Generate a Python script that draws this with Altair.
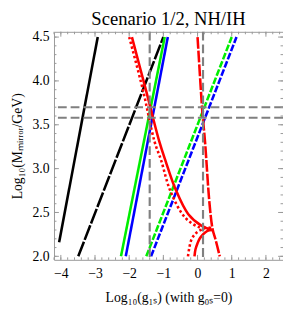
import altair as alt
import pandas as pd

# ---------------- data ----------------
X_DOMAIN = [-4.2, 2.5]
Y_DOMAIN = [1.96, 4.56]

x_major = [-4, -3, -2, -1, 0, 1, 2]
y_major = [2.0, 2.5, 3.0, 3.5, 4.0, 4.5]
x_minor = [round(-4.2 + 0.2 * i, 1) for i in range(34)]
y_minor = [round(2.0 + 0.1 * i, 1) for i in range(26)]

black_solid_x = [-4.05, -2.92]
black_solid_y = [2.16, 4.5]
black_dashed_x = [-3.49, -1.0]
black_dashed_y = [2.0, 4.5]
green_solid_x = [-2.24, -0.96]
green_solid_y = [2.0, 4.5]
blue_solid_x = [-2.1, -0.87]
blue_solid_y = [2.0, 4.5]
green_dashed_x = [-1.5, 1.0]
green_dashed_y = [2.0, 4.5]
blue_dashed_x = [-1.36, 1.14]
blue_dashed_y = [2.0, 4.5]
red_solid_upper_x = [-1.92, -1.5, -1.12, -0.93, -0.65, -0.27, 0.11, 0.42]
red_solid_upper_y = [4.5, 3.88, 3.31, 3.08, 2.77, 2.48, 2.35, 2.3]
red_dotted_upper_x = [-2.0, -1.6, -1.26, -1.07, -0.79, -0.36, 0.06, 0.42]
red_dotted_upper_y = [4.5, 3.9, 3.31, 3.1, 2.74, 2.44, 2.33, 2.31]
red_solid_lower_x = [-0.09, -0.06, 0.0, 0.06, 0.16, 0.29, 0.42]
red_solid_lower_y = [2.0, 2.08, 2.15, 2.2, 2.25, 2.29, 2.3]
red_dotted_lower_x = [-0.28, -0.24, -0.17, -0.08, 0.0, 0.15, 0.29, 0.42]
red_dotted_lower_y = [2.0, 2.1, 2.2, 2.25, 2.28, 2.31, 2.33, 2.32]
red_dashed_x = [0.0, 0.08, 0.14, 0.22, 0.35, 0.44, 0.52, 0.65]
red_dashed_y = [4.5, 4.0, 3.65, 3.3, 2.6, 2.31, 2.2, 2.0]

grey_vertical_x = [-1.4, 0.16]
grey_horizontal_y = [3.70, 3.58]

# ---------------- styling ----------------
W, H = 234, 233
FONT = "Liberation Serif"
TICK_COLOR = "#999999"

xs = alt.Scale(domain=X_DOMAIN, nice=False, zero=False)
ys = alt.Scale(domain=Y_DOMAIN, nice=False, zero=False)

axis_common = dict(
    labelFont=FONT, labelFontSize=14, labelColor="black",
    titleFont=FONT, titleColor="black", titleFontWeight="normal",
    ticks=False, domain=False, grid=False,
)
X_AX = alt.Axis(values=x_major, format="d", labelPadding=7, titlePadding=11,
                titleFontSize=14, title="Log₁₀(g₁ₛ) (with g₀ₛ=0)", **axis_common)
Y_AX = alt.Axis(values=y_major, format=".1f", labelPadding=5, titlePadding=8,
                titleFontSize=14, title="Log₁₀(Mₘᵢᵣᵣₒᵣ/GeV)", **axis_common)

def X(field="x"):
    return alt.X(f"{field}:Q", scale=xs, axis=X_AX)

def Y(field="y"):
    return alt.Y(f"{field}:Q", scale=ys, axis=Y_AX)

series = [
    (black_solid_x, black_solid_y, "black", []),
    (black_dashed_x, black_dashed_y, "black", [16, 2]),
    (green_solid_x, green_solid_y, "#00ee00", []),
    (blue_solid_x, blue_solid_y, "#0000ff", []),
    (green_dashed_x, green_dashed_y, "#00ee00", [7, 2]),
    (blue_dashed_x, blue_dashed_y, "#0000ff", [7, 2]),
    (red_dotted_upper_x, red_dotted_upper_y, "#ff0000", [2.5, 2.5]),
    (red_solid_upper_x, red_solid_upper_y, "#ff0000", []),
    (red_dotted_lower_x, red_dotted_lower_y, "#ff0000", [2.5, 2.5]),
    (red_solid_lower_x, red_solid_lower_y, "#ff0000", []),
    (red_dashed_x, red_dashed_y, "#ff0000", [12, 2]),
]

layers = []
for sx, sy, col, dash in series:
    df = pd.DataFrame({"x": sx, "y": sy, "o": list(range(len(sx)))})
    mk = dict(color=col, strokeWidth=2.6, clip=True, interpolate="catmull-rom")
    if dash:
        mk["strokeDash"] = dash
    layers.append(alt.Chart(df).mark_line(**mk).encode(x=X(), y=Y(), order="o:Q"))

# grey reference lines
layers.append(
    alt.Chart(pd.DataFrame({"x": grey_vertical_x})).mark_rule(
        color="#808080", strokeWidth=2.2, strokeDash=[9, 4]
    ).encode(x=X())
)
layers.append(
    alt.Chart(pd.DataFrame({"y": grey_horizontal_y})).mark_rule(
        color="#808080", strokeWidth=2.2, strokeDash=[9, 4]
    ).encode(y=Y())
)

# inward frame ticks
def xticks(vals, ln):
    df = pd.DataFrame({"x": vals})
    bot = alt.Chart(df).mark_rule(color=TICK_COLOR, strokeWidth=1).encode(
        x=X(), y=alt.value(H), y2=alt.value(H - ln))
    top = alt.Chart(df).mark_rule(color=TICK_COLOR, strokeWidth=1).encode(
        x=X(), y=alt.value(0), y2=alt.value(ln))
    return [bot, top]

def yticks(vals, ln):
    df = pd.DataFrame({"y": vals})
    left = alt.Chart(df).mark_rule(color=TICK_COLOR, strokeWidth=1).encode(
        y=Y(), x=alt.value(0), x2=alt.value(ln))
    right = alt.Chart(df).mark_rule(color=TICK_COLOR, strokeWidth=1).encode(
        y=Y(), x=alt.value(W), x2=alt.value(W - ln))
    return [left, right]

layers += xticks(x_major, 5) + xticks(x_minor, 2.5)
layers += yticks(y_major, 5) + yticks(y_minor, 2.5)

chart = alt.layer(*layers).properties(
    width=W, height=H,
    title=alt.Title("Scenario 1/2, NH/IH", font=FONT, fontSize=19, fontWeight="normal",
                    color="black", anchor="middle", offset=1),
    autosize=alt.AutoSizeParams(type="none"),
    padding={"left": 47, "top": 21, "right": 0, "bottom": 51},
).configure_view(stroke="#999999", strokeWidth=1)

chart.save("out.html", embed_options={"renderer": "svg", "actions": False})
